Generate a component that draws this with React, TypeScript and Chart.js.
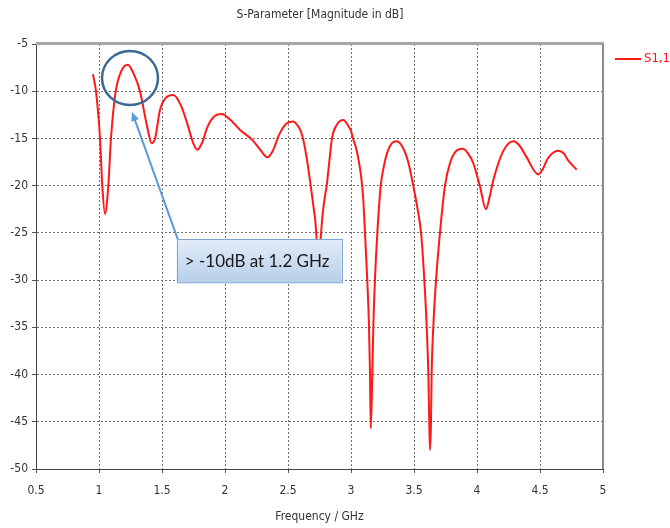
import React, { useEffect, useRef } from "react";
import { Chart, registerables } from "chart.js";

Chart.register(...registerables);

// ---- data ----
const seriesLabel = "S1,1";
const chartTitle = "S-Parameter [Magnitude in dB]";
const xAxisTitle = "Frequency / GHz";
const calloutText = "> -10dB at 1.2 GHz";

const freqGHz = [
  0.952, 0.976, 1.008, 1.026, 1.048, 1.074, 1.095, 1.133, 1.18, 1.228,
  1.28, 1.325, 1.38, 1.418, 1.445, 1.484, 1.53, 1.59, 1.65, 1.7,
  1.745, 1.78, 1.82, 1.86, 1.92, 1.974, 2.04, 2.12, 2.22, 2.28,
  2.336, 2.38, 2.43, 2.49, 2.542, 2.58, 2.6, 2.619, 2.65, 2.68, 2.7, 2.715, 2.742,
  2.775, 2.79, 2.807, 2.83, 2.849, 2.89, 2.939, 2.98, 3.0, 3.016, 3.04, 3.062, 3.08, 3.096, 3.111,
  3.129, 3.143, 3.151, 3.157, 3.169, 3.177, 3.19, 3.209, 3.236, 3.26,
  3.29, 3.325, 3.363, 3.42, 3.46, 3.494, 3.53, 3.556, 3.582, 3.601, 3.614, 3.621, 3.627,
  3.635, 3.64, 3.653, 3.675, 3.706, 3.746, 3.786, 3.83, 3.886, 3.93,
  3.97, 4.024, 4.071, 4.1, 4.13, 4.206, 4.288, 4.34, 4.39, 4.486,
  4.52, 4.563, 4.645, 4.69, 4.722, 4.791,
];
const s11dB = [
  -8.2, -10.0, -15.0, -20.0, -23.0, -20.0, -15.0, -10.0, -7.8, -7.2,
  -8.3, -10.0, -13.6, -15.5, -15.0, -12.0, -10.7, -10.4, -11.5, -13.4,
  -15.4, -16.2, -15.4, -13.8, -12.6, -12.4, -13.0, -14.1, -15.2, -16.2,
  -17.0, -16.3, -14.6, -13.4, -13.2, -13.7, -14.2, -15.0, -17.2, -20.0, -22.0, -23.5, -27.5,
  -23.0, -21.4, -20.0, -17.2, -15.0, -13.5, -13.05, -13.7, -14.2, -15.0, -16.0, -17.4, -19.0, -21.2, -25.0,
  -30.0, -35.0, -40.0, -45.7, -40.0, -35.0, -30.0, -25.0, -20.0, -18.0,
  -16.4, -15.5, -15.3, -16.2, -17.8, -20.0, -22.6, -25.0, -30.0, -35.0, -40.0, -45.0, -48.0,
  -45.0, -40.0, -35.0, -30.0, -25.0, -20.0, -17.6, -16.4, -16.1, -16.6,
  -17.6, -20.1, -22.5, -21.2, -19.4, -16.4, -15.3, -15.8, -16.9, -18.8,
  -18.3, -17.1, -16.3, -16.6, -17.3, -18.3,
];
const xTickValues = [0.5, 1, 1.5, 2, 2.5, 3, 3.5, 4, 4.5, 5];
const yTickValues = [-50, -45, -40, -35, -30, -25, -20, -15, -10, -5];

// annotation anchors, in data units
const circleCenter = { x: 1.246, y: -8.6 };
const circleRadius = { x: 0.222, y: 2.86 };
const calloutBox = { x0: 1.617, y0: -25.66, x1: 2.926, y1: -30.24 };
const arrowFrom = { x: 1.625, y: -25.66 };
const arrowTo = { x: 1.262, y: -12.2 };

const FONT = '"Liberation Sans Narrow", "DejaVu Sans Condensed", sans-serif';

const decorPlugin = {
  id: "decor",
  afterDraw(chart: any) {
    const { ctx, chartArea, scales } = chart;
    const xs = scales.x;
    const ys = scales.y;
    ctx.save();
    // top and right frame
    ctx.strokeStyle = "#a6a6a6";
    ctx.lineWidth = 3;
    ctx.beginPath();
    ctx.moveTo(chartArea.left, chartArea.top - 0.5);
    ctx.lineTo(chartArea.right + 1, chartArea.top - 0.5);
    ctx.stroke();
    ctx.strokeStyle = "#8c8c8c";
    ctx.lineWidth = 2;
    ctx.beginPath();
    ctx.moveTo(chartArea.right, chartArea.top);
    ctx.lineTo(chartArea.right, chartArea.bottom);
    ctx.stroke();

    // title
    ctx.fillStyle = "#333";
    ctx.font = "12px " + FONT;
    ctx.textAlign = "center";
    ctx.textBaseline = "middle";
    ctx.fillText(chartTitle, 320, 15);

    // legend
    const ds = chart.data.datasets[0];
    ctx.strokeStyle = ds.borderColor;
    ctx.lineWidth = 2;
    ctx.beginPath();
    ctx.moveTo(615, 59);
    ctx.lineTo(641, 59);
    ctx.stroke();
    ctx.fillStyle = ds.borderColor;
    ctx.font = "13px " + FONT;
    ctx.textAlign = "left";
    ctx.fillText(ds.label, 644, 59);

    // circle
    const cx = xs.getPixelForValue(circleCenter.x);
    const cy = ys.getPixelForValue(circleCenter.y);
    const rx = Math.abs(xs.getPixelForValue(circleCenter.x + circleRadius.x) - cx);
    const ry = Math.abs(ys.getPixelForValue(circleCenter.y + circleRadius.y) - cy);
    ctx.strokeStyle = "#3d6a94";
    ctx.lineWidth = 2.5;
    ctx.beginPath();
    ctx.ellipse(cx, cy, rx, ry, 0, 0, Math.PI * 2);
    ctx.stroke();

    // arrow
    const ax0 = xs.getPixelForValue(arrowFrom.x);
    const ay0 = ys.getPixelForValue(arrowFrom.y);
    const ax1 = xs.getPixelForValue(arrowTo.x);
    const ay1 = ys.getPixelForValue(arrowTo.y);
    const ang = Math.atan2(ay1 - ay0, ax1 - ax0);
    ctx.strokeStyle = "#5b9bd5";
    ctx.fillStyle = "#5b9bd5";
    ctx.lineWidth = 2;
    ctx.beginPath();
    ctx.moveTo(ax0, ay0);
    ctx.lineTo(ax1 - 6 * Math.cos(ang), ay1 - 6 * Math.sin(ang));
    ctx.stroke();
    ctx.beginPath();
    ctx.moveTo(ax1, ay1);
    ctx.lineTo(ax1 - 9 * Math.cos(ang) + 4 * Math.sin(ang), ay1 - 9 * Math.sin(ang) - 4 * Math.cos(ang));
    ctx.lineTo(ax1 - 9 * Math.cos(ang) - 4 * Math.sin(ang), ay1 - 9 * Math.sin(ang) + 4 * Math.cos(ang));
    ctx.closePath();
    ctx.fill();

    // callout box
    const bx0 = xs.getPixelForValue(calloutBox.x0);
    const by0 = ys.getPixelForValue(calloutBox.y0);
    const bx1 = xs.getPixelForValue(calloutBox.x1);
    const by1 = ys.getPixelForValue(calloutBox.y1);
    const g = ctx.createLinearGradient(0, by0, 0, by1);
    g.addColorStop(0, "#e2ecf8");
    g.addColorStop(1, "#b7cfea");
    ctx.fillStyle = g;
    ctx.fillRect(bx0, by0, bx1 - bx0, by1 - by0);
    ctx.strokeStyle = "#7fa5d3";
    ctx.lineWidth = 1;
    ctx.strokeRect(Math.round(bx0) + 0.5, Math.round(by0) + 0.5, bx1 - bx0, by1 - by0);
    ctx.fillStyle = "#1a1a1a";
    ctx.font = '17px Lato, "Open Sans", sans-serif';
    ctx.textAlign = "left";
    ctx.textBaseline = "middle";
    ctx.fillText(calloutText, bx0 + 8, (by0 + by1) / 2 + 1);
    ctx.restore();
  },
};

export default function App() {
  const ref = useRef<HTMLCanvasElement | null>(null);
  useEffect(() => {
    if (!ref.current) return;
    Chart.defaults.font.family = FONT;
    const chart = new Chart(ref.current, {
      type: "line",
      data: {
        datasets: [
          {
            label: seriesLabel,
            data: freqGHz.map((f, i) => ({ x: f, y: s11dB[i] })),
            borderColor: "rgb(255, 24, 24)",
            borderWidth: 2,
            pointRadius: 0,
            fill: false,
            cubicInterpolationMode: "monotone",
          },
        ],
      },
      options: {
        animation: false,
        responsive: false,
        devicePixelRatio: 1,
        layout: { padding: { left: 0, top: 44, right: 67, bottom: 0 } },
        plugins: { legend: { display: false }, title: { display: false }, tooltip: { enabled: false } },
        scales: {
          x: {
            type: "linear",
            min: 0.5,
            max: 5,
            afterBuildTicks: (s: any) => {
              s.ticks = xTickValues.map((v) => ({ value: v }));
            },
            afterFit: (s: any) => {
              s.height = 59;
            },
            ticks: {
              color: "#333",
              font: { size: 12 },
              padding: 11,
              maxRotation: 0,
              autoSkip: false,
              callback: (v: any) => String(Number(v)),
            },
            grid: { color: "#6e6e6e", tickColor: "#555", tickLength: 4, tickBorderDash: [], lineWidth: 1 },
            border: { color: "#444", width: 1, dash: [2, 2] },
            title: { display: true, text: xAxisTitle, color: "#333", font: { size: 12 }, padding: { top: 0, bottom: 4 } },
          },
          y: {
            type: "linear",
            min: -50,
            max: -5,
            afterBuildTicks: (s: any) => {
              s.ticks = yTickValues.map((v) => ({ value: v }));
            },
            afterFit: (s: any) => {
              s.width = 36;
            },
            ticks: { color: "#333", font: { size: 12 }, padding: 4, autoSkip: false, callback: (v: any) => String(Number(v)) },
            grid: { color: "#6e6e6e", tickColor: "#555", tickLength: 4, tickBorderDash: [], lineWidth: 1 },
            border: { color: "#444", width: 1, dash: [2, 2] },
          },
        },
      },
      plugins: [decorPlugin],
    } as any);
    return () => chart.destroy();
  }, []);
  return (
    <div style={{ position: "fixed", left: 0, top: 0, width: 670, height: 528, background: "#fff" }}>
      <canvas ref={ref} width={670} height={528} style={{ width: 670, height: 528, display: "block" }} />
    </div>
  );
}
